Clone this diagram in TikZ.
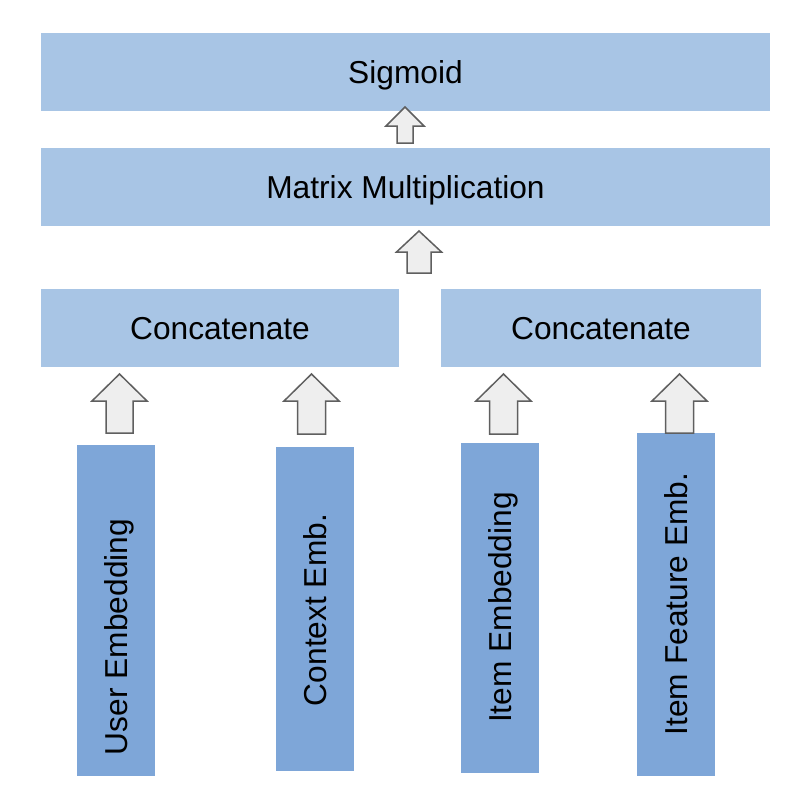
\documentclass[tikz,border=0pt]{standalone}
\usepackage{fontspec}
\setmainfont{Liberation Sans}
\definecolor{lightbox}{HTML}{A8C5E5}
\definecolor{darkbox}{HTML}{7EA6D8}
\definecolor{arrfill}{HTML}{EEEEEE}
\definecolor{arrdraw}{HTML}{5F5F5F}
\tikzset{
  lbox/.style={fill=lightbox, draw=none, inner sep=0pt, outer sep=0pt,
    font=\fontsize{31.7}{38}\selectfont, text height=23pt, text depth=1pt},
  dbox/.style={fill=darkbox, draw=none, inner sep=0pt, outer sep=0pt},
  vlabel/.style={rotate=90, inner sep=0pt, font=\fontsize{31.7}{38}\selectfont,
    text height=23pt, text depth=1pt},
  blockarr/.style={fill=arrfill, draw=arrdraw, line width=1.5pt, line join=miter}
}
% cx, tip, shoulder, bottom, headhalf, stemhalf
\newcommand\blockarrow[6]{%
  \draw[blockarr] (#1-#6,#4) -- (#1-#6,#3) -- (#1-#5,#3) -- (#1,#2)
    -- (#1+#5,#3) -- (#1+#6,#3) -- (#1+#6,#4) -- cycle;}
\begin{document}
\begin{tikzpicture}[x=1pt,y=-1pt]
\useasboundingbox (0,0) rectangle (810,792);
% top boxes
\node[lbox, minimum width=729pt, minimum height=78pt] (sig) at (405.5,72) {Sigmoid};
\node[lbox, minimum width=729pt, minimum height=78pt] (mat) at (405.5,187) {Matrix Multiplication};
\node[lbox, minimum width=358pt, minimum height=78pt] (cat1) at (220,328) {Concatenate};
\node[lbox, minimum width=320pt, minimum height=78pt] (cat2) at (601,328) {Concatenate};
% vertical boxes
\node[dbox, minimum width=78pt, minimum height=331pt] (user) at (116,610.5) {};
\node[dbox, minimum width=78pt, minimum height=324pt] (ctx) at (315,609) {};
\node[dbox, minimum width=78pt, minimum height=330pt] (item) at (500,608) {};
\node[dbox, minimum width=78pt, minimum height=343pt] (feat) at (676,604.5) {};
\node[vlabel] (userl) at (116,637) {User Embedding};
\node[vlabel] (ctxl) at (315,610) {Context Emb.};
\node[vlabel] (iteml) at (500,607.5) {Item Embedding};
\node[vlabel] (featl) at (676,604) {Item Feature Emb.};
% block arrows
\blockarrow{405}{107}{126}{143}{19}{8}
\blockarrow{419}{231}{252}{273}{22.5}{12}
\blockarrow{119.5}{374}{401}{433}{27.5}{13.5}
\blockarrow{311.5}{374}{401}{434}{27.5}{14}
\blockarrow{503.5}{374}{401}{434}{27.5}{14}
\blockarrow{679.5}{374}{401}{433}{27.5}{14}
\end{tikzpicture}
\end{document}
